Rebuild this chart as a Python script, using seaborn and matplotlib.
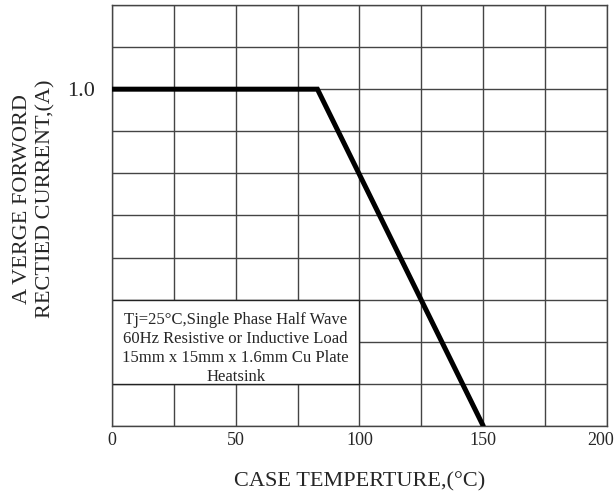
import matplotlib
matplotlib.use('Agg')
import matplotlib.pyplot as plt
import matplotlib.transforms as mtransforms
import seaborn as sns
import pandas as pd

# Derating curve
case_temp = [0, 83, 150]
current = [1.0, 1.0, 0.0]

x_grid = [0, 25, 50, 75, 100, 125, 150, 175, 200]
x_labels = ['0', '', '50', '', '100', '', '150', '', '200']
y_grid = [0, 0.125, 0.25, 0.375, 0.5, 0.625, 0.75, 0.875, 1.0, 1.125, 1.25]
y_labels = ['', '', '', '', '', '', '', '', '1.0', '', '']

note = ('Tj=25°C,Single Phase Half Wave\n60Hz Resistive or Inductive Load\n'
        '15mm x 15mm x 1.6mm Cu Plate\nHeatsink')

sns.set_style('white')
plt.rcParams['font.family'] = ['Liberation Serif', 'DejaVu Serif']

fig = plt.figure(figsize=(6.16, 4.93), dpi=100)
ax = fig.add_axes([0.1818, 0.1359, 0.8036, 0.854])

df = pd.DataFrame({'temp': case_temp, 'current': current})
ax.set_xlim(0, 200)
ax.set_ylim(0, 1.25)
ax.set_xticks(x_grid)
ax.set_xticklabels(x_labels, fontsize=13)
ax.set_yticks(y_grid)
ax.set_yticklabels(y_labels, fontsize=16)
ax.tick_params(axis='x', length=0, pad=4)
ax.tick_params(axis='y', length=0, pad=12)
ax.grid(True, color='#444444', linewidth=1.0)
ax.set_axisbelow(True)
for s in ax.spines.values():
    s.set_color('#444444')
    s.set_linewidth(1.0)

# keep the last tick label inside the figure
last = ax.get_xticklabels()[-1]
last.set_transform(last.get_transform() +
                   mtransforms.ScaledTranslation(-6 / 100, 0, fig.dpi_scale_trans))

# white note box covering the grid
ax.add_patch(plt.Rectangle((0, 0.125), 100, 0.25, facecolor='white',
                           edgecolor='#222222', linewidth=1.0, zorder=1.5))
ax.text(50, 0.23, note, ha='center', va='center', fontsize=12,
        linespacing=1.25, zorder=2)

sns.lineplot(data=df, x='temp', y='current', color='black', linewidth=3.6,
             ax=ax, zorder=3, solid_capstyle='round', solid_joinstyle='miter')

ax.set_xlabel('CASE TEMPERTURE,(°C)', fontsize=16, labelpad=17)
ax.set_ylabel('A VERGE FORWORD\nRECTIED CURRENT,(A)', fontsize=16,
              linespacing=1.3)
ax.yaxis.set_label_coords(-0.115, 0.54)

fig.savefig('out.png', dpi=100)
